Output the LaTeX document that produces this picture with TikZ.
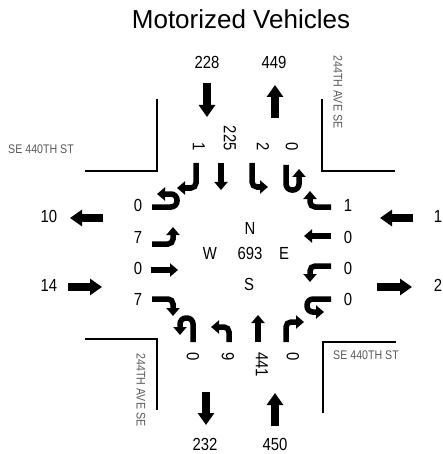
\documentclass[tikz,border=0pt]{standalone}
\usepackage{fontspec}
\setmainfont{Liberation Sans}
\newfontfamily\narrowfont[FakeStretch=0.85]{Liberation Sans}
\usetikzlibrary{arrows.meta}
\definecolor{streetgray}{HTML}{5A5A5A}
\tikzset{
  lane/.style={line width=5.5pt, rounded corners=5pt, -{Triangle[length=8pt,width=13pt]}},
  big/.style={line width=7.5pt, -{Triangle[length=12pt,width=16pt]}},
  curb/.style={line width=1.8pt},
  num/.style={font=\narrowfont\fontsize{17.5}{17.5}\selectfont, inner sep=0pt},
  street/.style={font=\narrowfont\fontsize{12.5}{12.5}\selectfont, text=streetgray, inner sep=0pt},
  titletext/.style={font=\fontsize{26}{26}\selectfont, inner sep=0pt}
}
\begin{document}
\begin{tikzpicture}[x=1pt,y=-1pt]
\useasboundingbox (0,0) rectangle (443,454);
\node[titletext] (title) at (241,19) {Motorized Vehicles};
% curbs
\draw[curb] (157,99) -- (157,171) -- (85,171);
\draw[curb] (322,99) -- (322,171) -- (395,171);
\draw[curb] (85,339) -- (157,339) -- (157,410);
\draw[curb] (323,413) -- (323,342) -- (396,342);
% street names
\node[street] (stnw) at (41,149) {SE 440TH ST};
\node[street] (stse) at (366,355) {SE 440TH ST};
\node[street, rotate=-90] (avne) at (338,92) {244TH AVE SE};
\node[street, rotate=-90] (avsw) at (141,390) {244TH AVE SE};
% approach totals
\node[num] (nin) at (207,62) {228};
\node[num] (nout) at (274,62) {449};
\node[num] (sout) at (205,444) {232};
\node[num] (sin) at (275,444) {450};
\node[num] (wout) at (49,216) {10};
\node[num] (win) at (49,285) {14};
\node[num] (ein) at (438,216) {1};
\node[num] (eout) at (438,285) {2};
% big arrows
\draw[big] (207,83) -- (207,117);
\draw[big] (275,118) -- (275,85);
\draw[big] (206,392) -- (206,425);
\draw[big] (275,426) -- (275,393);
\draw[big] (103,218) -- (70,218);
\draw[big] (68,287) -- (102,287);
\draw[big] (413,218) -- (380,218);
\draw[big] (377,287) -- (412,287);
% north approach labels
\node[num, rotate=-90, anchor=east] (sbr) at (199,151) {1};
\node[num, rotate=-90, anchor=east] (sbt) at (230,151) {225};
\node[num, rotate=-90, anchor=east] (sbl) at (263,151) {2};
\node[num, rotate=-90, anchor=east] (sbu) at (292,151) {0};
% north approach arrows
\draw[lane] (196,163) -- (196,188) -- (177,188);
\draw[lane] (221,163) -- (221,190);
\draw[lane] (252,163) -- (252,187) -- (268,187);
\draw[lane, rounded corners=6pt] (286,165) -- (286,190) -- (299,190) -- (299,169);
% west approach labels
\node[num] (ebu) at (138,205) {0};
\node[num] (ebl) at (138,237) {7};
\node[num] (ebt) at (138,268) {0};
\node[num] (ebr) at (138,299) {7};
% west approach arrows
\draw[lane, rounded corners=6pt] (152,207) -- (177,207) -- (177,194) -- (157,194);
\draw[lane] (152,244) -- (173,244) -- (173,227);
\draw[lane] (151,270) -- (178,270);
\draw[lane] (152,299) -- (173,299) -- (173,316);
% east approach labels
\node[num] (wbr) at (348,205) {1};
\node[num] (wbt) at (348,237) {0};
\node[num] (wbl) at (348,268) {0};
\node[num] (wbu) at (348,299) {0};
% east approach arrows
\draw[lane] (331,207) -- (310,207) -- (310,191);
\draw[lane] (331,236) -- (304,236);
\draw[lane] (331,266) -- (310,266) -- (310,282);
\draw[lane, rounded corners=6pt] (331,299) -- (307,299) -- (307,312) -- (324,312);
% south approach labels
\node[num, rotate=-90, anchor=west] (nbu) at (193,352) {0};
\node[num, rotate=-90, anchor=west] (nbl) at (228,352) {9};
\node[num, rotate=-90, anchor=west] (nbt) at (262,352) {441};
\node[num, rotate=-90, anchor=west] (nbr) at (293,352) {0};
% south approach arrows
\draw[lane, rounded corners=6pt] (193,342) -- (193,318) -- (180,318) -- (180,335);
\draw[lane] (229,342) -- (229,327) -- (211,327);
\draw[lane] (258,342) -- (258,315);
\draw[lane] (286,342) -- (286,322) -- (304,322);
% centre
\node[num] (cn) at (250,228) {N};
\node[num] (ctot) at (250,253) {693};
\node[num] (cw) at (210,253) {W};
\node[num] (ce) at (284,253) {E};
\node[num] (cs) at (249,284) {S};
\end{tikzpicture}
\end{document}
